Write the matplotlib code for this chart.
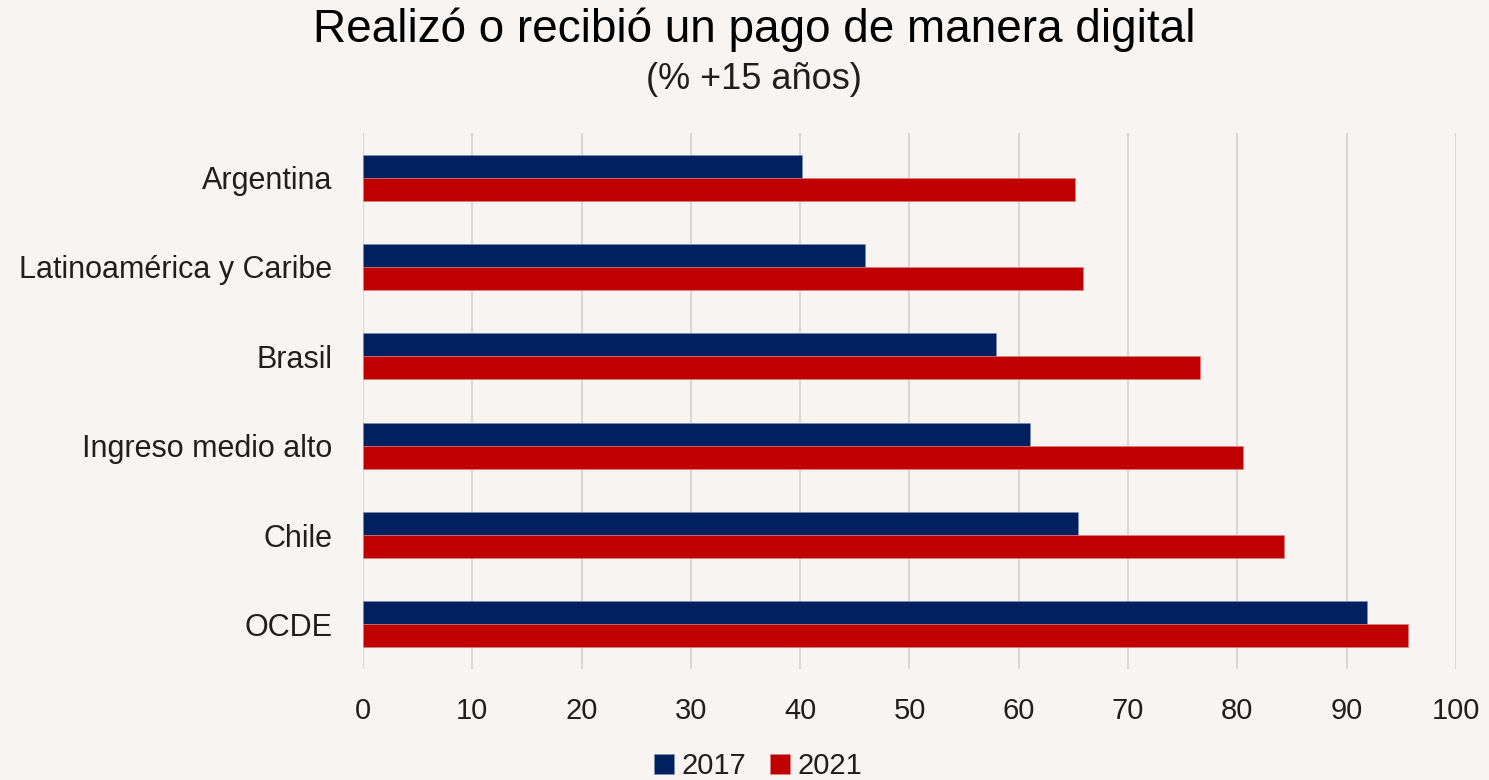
import matplotlib.pyplot as plt
import numpy as np
from matplotlib import font_manager

# datos
categorias = ['Argentina', 'Latinoamérica y Caribe', 'Brasil', 'Ingreso medio alto', 'Chile', 'OCDE']
v2017 = [40.2, 45.9, 57.9, 61.0, 65.4, 91.9]
v2021 = [65.1, 65.9, 76.6, 80.5, 84.3, 95.6]
xticks = [0, 10, 20, 30, 40, 50, 60, 70, 80, 90, 100]

names = {f.name for f in font_manager.fontManager.ttflist}
fuente = 'Liberation Sans Narrow' if 'Liberation Sans Narrow' in names else 'Liberation Sans'
plt.rcParams['font.family'] = [fuente, 'DejaVu Sans']

fondo = '#f7f4f1'
azul = '#002060'
rojo = '#c00000'
texto = '#1f1f1f'

fig = plt.figure(figsize=(14.89, 7.80), dpi=100, facecolor=fondo)
ax = fig.add_axes([0.2438, 0.1423, 0.9778 - 0.2438, 0.8295 - 0.1423])
ax.set_facecolor(fondo)

y = np.arange(len(categorias))
h = 0.257
ax.barh(y - h / 2, v2017, height=h, color=azul, label='2017', edgecolor='#8090b0', linewidth=0.4, zorder=3)
ax.barh(y + h / 2, v2021, height=h, color=rojo, label='2021', edgecolor='#e08080', linewidth=0.4, zorder=3)

ax.set_ylim(len(categorias) - 0.5, -0.5)
ax.set_yticks(y)
ax.set_yticklabels(categorias, fontsize=22, color=texto)
ax.set_xlim(0, 100)
ax.set_xticks(xticks)
ax.set_xticklabels([str(t) for t in xticks], fontsize=21, color=texto)
ax.tick_params(axis='y', length=0, pad=22)
ax.tick_params(axis='x', length=0, pad=20)
ax.grid(axis='x', color='#d9d9d9', linewidth=1.5, zorder=0)
for s in ax.spines.values():
    s.set_visible(False)

fig.text(0.5064, 0.962, 'Realizó o recibió un pago de manera digital', ha='center', va='center',
         fontsize=33, color='#000000')
fig.text(0.5064, 0.898, '(% +15 años)', ha='center', va='center', fontsize=26, color=texto)

fig.legend(loc='center', bbox_to_anchor=(0.509, 0.018), ncol=2, frameon=False, fontsize=21,
           handlelength=0.7, handleheight=0.7, handletextpad=0.25, columnspacing=0.8,
           labelcolor=texto)

plt.savefig('out.png', dpi=100, facecolor=fondo)
